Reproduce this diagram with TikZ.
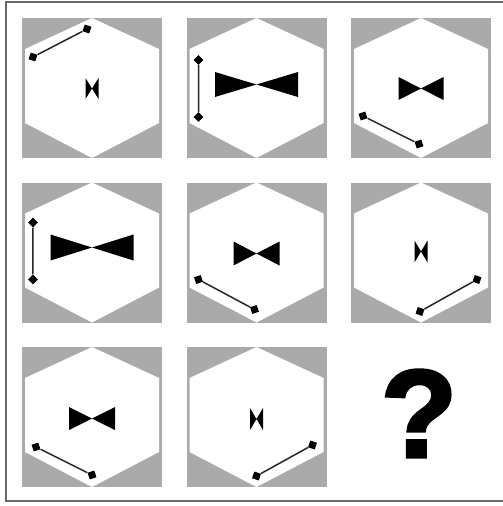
\documentclass[tikz,border=0pt]{standalone}
\usepackage{fontspec}
\newfontfamily\qmarkfont[FakeBold=2.5]{Liberation Sans}
\usepackage{xcolor}
\usetikzlibrary{positioning, calc}
\definecolor{tilegray}{RGB}{170,170,170}
\definecolor{framegray}{RGB}{105,105,105}
\tikzset{
  cell/.style={
    rectangle, fill=tilegray,
    minimum size=140pt,
    inner sep=0pt, outer sep=0pt
  },
  knob/.style={
    rectangle, fill=black,
    minimum size=7pt, inner sep=0pt,
    rotate=#1
  },
  knob/.default=45,
  link/.style={
    draw=black!85,
    line width=1.5pt
  },
  wing/.style={
    fill=black
  }
}

\begin{document}
\begin{tikzpicture}[x=1pt, y=-1pt, node distance=24.5pt]

\useasboundingbox (0,0) rectangle (503,506);
\fill[white] (0,0) rectangle (503,506);

%------------------------------------------------------
% FRAME
%------------------------------------------------------
\draw[framegray, line width=2pt] (520,2) -- (6,2) -- (6,501) -- (520,501);

%------------------------------------------------------
% CELLS (row by row)
%------------------------------------------------------
\node[cell] (c11) at (92,88) {};
\node[cell, right=of c11] (c12) {};
\node[cell, right=of c12] (c13) {};
\node[cell, below=of c11] (c21) {};
\node[cell, right=of c21] (c22) {};
\node[cell, right=of c22] (c23) {};
\node[cell, below=of c21] (c31) {};
\node[cell, right=of c31] (c32) {};

% white hexagons
\foreach \c in {c11,c12,c13,c21,c22,c23,c31,c32}
  \fill[white] (\c.north) -- ($(\c.north east)+(-3,31)$) -- ($(\c.south east)+(-3,-35)$)
    -- (\c.south) -- ($(\c.south west)+(3,-35)$) -- ($(\c.north west)+(3,31)$) -- cycle;

%------------------------------------------------------
% BOWTIES
%------------------------------------------------------
% small
\fill[wing, shift={(c11)}] (-6.5,-10) -- (-6.5,11) -- (6.5,-10) -- (6.5,11) -- cycle;
\fill[wing, shift={(c23)}] (-6.5,-12) -- (-6.5,10) -- (6.5,-12) -- (6.5,10) -- cycle;
\fill[wing, shift={(c32)}] (-6.5,-9) -- (-6.5,13) -- (6.5,-9) -- (6.5,13) -- cycle;
% medium
\fill[wing, shift={(c13)}] (-22.5,-11) -- (-22.5,12) -- (22.5,-11) -- (22.5,12) -- cycle;
\fill[wing, shift={(c22)}] (-23,-11) -- (-23,13) -- (23,-11) -- (23,13) -- cycle;
\fill[wing, shift={(c31)}] (-23,-10) -- (-23,13) -- (23,-10) -- (23,13) -- cycle;
% large
\fill[wing, shift={(c12)}] (-41.5,-16) -- (-41.5,9) -- (41.5,-16) -- (41.5,9) -- cycle;
\fill[wing, shift={(c21)}] (-41.5,-18) -- (-41.5,8) -- (41.5,-18) -- (41.5,8) -- cycle;

%------------------------------------------------------
% SEGMENTS
%------------------------------------------------------
% upper left
\node[knob=72] (s11a) at ($(c11)+(-59,-31)$) {};
\node[knob=72] (s11b) at ($(c11)+(-5,-59)$) {};
% left
\node[knob] (s12a) at ($(c12)+(-58,-28)$) {};
\node[knob] (s12b) at ($(c12)+(-58,29)$) {};
\node[knob] (s21a) at ($(c21)+(-59,-30)$) {};
\node[knob] (s21b) at ($(c21)+(-59,27)$) {};
% lower left
\node[knob=18] (s13a) at ($(c13)+(-58,28)$) {};
\node[knob=18] (s13b) at ($(c13)+(-2,56)$) {};
\node[knob=18] (s22a) at ($(c22)+(-58,27)$) {};
\node[knob=18] (s22b) at ($(c22)+(-2,57)$) {};
\node[knob=18] (s31a) at ($(c31)+(-56,30)$) {};
\node[knob=18] (s31b) at ($(c31)+(0,58)$) {};
% lower right
\node[knob=72] (s23a) at ($(c23)+(-1,59)$) {};
\node[knob=72] (s23b) at ($(c23)+(56,27)$) {};
\node[knob=72] (s32a) at ($(c32)+(0,59)$) {};
\node[knob=72] (s32b) at ($(c32)+(56,28)$) {};

\draw[link] (s11a) -- (s11b);
\draw[link] (s12a) -- (s12b);
\draw[link] (s21a) -- (s21b);
\draw[link] (s13a) -- (s13b);
\draw[link] (s22a) -- (s22b);
\draw[link] (s31a) -- (s31b);
\draw[link] (s23a) -- (s23b);
\draw[link] (s32a) -- (s32b);

%------------------------------------------------------
% QUESTION MARK
%------------------------------------------------------
\node[font=\qmarkfont\bfseries\fontsize{125}{125}\selectfont, inner sep=0pt] (qmark) at (419,413.5) {?};

\end{tikzpicture}
\end{document}
